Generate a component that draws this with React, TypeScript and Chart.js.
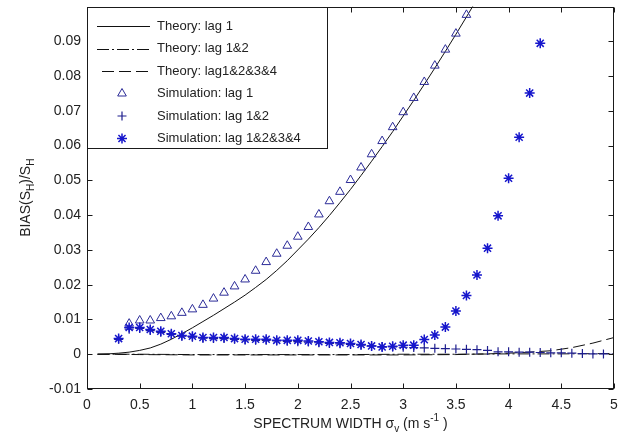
import React, { useEffect, useRef } from 'react';
import { Chart, registerables } from 'chart.js';

Chart.register(...registerables);

const FONT = '"Liberation Sans", Arial, Helvetica, sans-serif';
const TEXT = '#222222';
const AXIS = '#1a1a1a';

// ---- tick values ----
const X_TICKS = [0, 0.5, 1, 1.5, 2, 2.5, 3, 3.5, 4, 4.5, 5];
const Y_TICKS = [-0.01, 0, 0.01, 0.02, 0.03, 0.04, 0.05, 0.06, 0.07, 0.08, 0.09];

// ---- Theory: lag 1 (solid) ----
const theoryLag1X = [0.1, 0.2, 0.3, 0.4, 0.5, 0.6, 0.7, 0.8, 0.9, 1.0, 1.1, 1.2, 1.3, 1.4, 1.5, 1.6, 1.7, 1.8, 1.9, 2.0, 2.1, 2.2, 2.3, 2.4, 2.5, 2.6, 2.7, 2.8, 2.9, 3.0, 3.1, 3.2, 3.3, 3.4, 3.5, 3.6, 3.7];
const theoryLag1Y = [0.0, 0.0001, 0.0003, 0.0006, 0.0011, 0.0018, 0.0029, 0.0043, 0.0059, 0.0076, 0.0094, 0.0112, 0.0131, 0.015, 0.017, 0.0192, 0.0215, 0.0241, 0.0269, 0.03, 0.0331, 0.0364, 0.0399, 0.0436, 0.0474, 0.0514, 0.0555, 0.0597, 0.064, 0.0685, 0.073, 0.0776, 0.0823, 0.0871, 0.092, 0.097, 0.1021];

// ---- Theory: lag 1&2 (dash-dot) ----
const theoryLag12X = [0.1, 0.5, 1.0, 1.5, 2.0, 2.5, 3.0, 3.5, 4.0, 4.5, 5.0];
const theoryLag12Y = [0.0, 0.0, -0.0001, -0.0001, -0.0001, -0.0001, 0.0, 0.0, 0.0001, 0.0001, 0.0002];

// ---- Theory: lag1&2&3&4 (dashed) ----
const theoryLag1234X = [0.1, 0.5, 1.0, 1.5, 2.0, 2.5, 3.0, 3.5, 3.8, 4.0, 4.2, 4.4, 4.6, 4.8, 5.0];
const theoryLag1234Y = [0.0, -0.0001, -0.0002, -0.0002, -0.0002, -0.0002, -0.0002, -0.0001, 0.0001, 0.0003, 0.0006, 0.001, 0.0019, 0.0032, 0.0048];

// ---- Simulation: lag 1 (triangles) ----
const simLag1X = [0.4, 0.5, 0.6, 0.7, 0.8, 0.9, 1.0, 1.1, 1.2, 1.3, 1.4, 1.5, 1.6, 1.7, 1.8, 1.9, 2.0, 2.1, 2.2, 2.3, 2.4, 2.5, 2.6, 2.7, 2.8, 2.9, 3.0, 3.1, 3.2, 3.3, 3.4, 3.5, 3.6];
const simLag1Y = [0.0088, 0.0097, 0.0097, 0.0104, 0.0109, 0.0119, 0.0129, 0.0142, 0.016, 0.0177, 0.0195, 0.0215, 0.024, 0.0265, 0.0289, 0.0312, 0.0338, 0.0366, 0.0402, 0.044, 0.0467, 0.0501, 0.0537, 0.0575, 0.0613, 0.0653, 0.0696, 0.0737, 0.0783, 0.083, 0.0876, 0.0922, 0.0976];

// ---- Simulation: lag 1&2 (plus) ----
const simLag12X = [0.3, 0.4, 0.5, 0.6, 0.7, 0.8, 0.9, 1.0, 1.1, 1.2, 1.3, 1.4, 1.5, 1.6, 1.7, 1.8, 1.9, 2.0, 2.1, 2.2, 2.3, 2.4, 2.5, 2.6, 2.7, 2.8, 2.9, 3.0, 3.1, 3.2, 3.3, 3.4, 3.5, 3.6, 3.7, 3.8, 3.9, 4.0, 4.1, 4.2, 4.3, 4.4, 4.5, 4.6, 4.7, 4.8, 4.9, 5.0];
const simLag12Y = [0.0043, 0.0072, 0.0074, 0.0068, 0.0063, 0.0057, 0.0052, 0.0049, 0.0046, 0.0045, 0.0045, 0.0043, 0.0041, 0.004, 0.004, 0.0038, 0.0037, 0.0036, 0.0035, 0.0033, 0.0031, 0.003, 0.0028, 0.0026, 0.0024, 0.0022, 0.0021, 0.002, 0.0019, 0.0018, 0.0017, 0.0016, 0.0015, 0.0014, 0.0013, 0.0011, 0.0007, 0.0007, 0.0006, 0.0006, 0.0005, 0.0004, 0.0004, 0.0003, 0.0002, 0.0001, 0.0001, 0.0];

// ---- Simulation: lag 1&2&3&4 (asterisk) ----
const simLag1234X = [0.3, 0.4, 0.5, 0.6, 0.7, 0.8, 0.9, 1.0, 1.1, 1.2, 1.3, 1.4, 1.5, 1.6, 1.7, 1.8, 1.9, 2.0, 2.1, 2.2, 2.3, 2.4, 2.5, 2.6, 2.7, 2.8, 2.9, 3.0, 3.1, 3.2, 3.3, 3.4, 3.5, 3.6, 3.7, 3.8, 3.9, 4.0, 4.1, 4.2, 4.3];
const simLag1234Y = [0.0045, 0.0077, 0.0077, 0.0071, 0.0066, 0.0059, 0.0054, 0.0052, 0.0048, 0.0048, 0.0048, 0.0045, 0.0043, 0.0043, 0.0043, 0.004, 0.004, 0.004, 0.0038, 0.0036, 0.0034, 0.0033, 0.0031, 0.0028, 0.0024, 0.0021, 0.0023, 0.0026, 0.0026, 0.0042, 0.0055, 0.0078, 0.0124, 0.0169, 0.0228, 0.0305, 0.0398, 0.0506, 0.0624, 0.0751, 0.0894];

const LEGEND_LABELS = [
  'Theory: lag 1',
  'Theory: lag 1&2',
  'Theory: lag1&2&3&4',
  'Simulation: lag 1',
  'Simulation: lag 1&2',
  'Simulation: lag 1&2&3&4',
];

const LINE_COLOR = '#111111';
const TRI_COLOR = '#2c2c98';
const PLUS_COLOR = '#1e1e8e';
const STAR_COLOR = '#1616cc';
const DASH = [12, 5];
const DASHDOT = [12, 3, 2, 3];

const pts = (xs: number[], ys: number[]) => xs.map((x, i) => ({ x, y: ys[i] }));

function drawMarker(ctx: CanvasRenderingContext2D, style: string, x: number, y: number, r: number) {
  ctx.beginPath();
  if (style === 'triangle') {
    ctx.moveTo(x, y - r);
    ctx.lineTo(x + 0.866 * r, y + 0.5 * r);
    ctx.lineTo(x - 0.866 * r, y + 0.5 * r);
    ctx.closePath();
  } else if (style === 'cross') {
    ctx.moveTo(x - r, y);
    ctx.lineTo(x + r, y);
    ctx.moveTo(x, y - r);
    ctx.lineTo(x, y + r);
  } else if (style === 'star') {
    ctx.moveTo(x - r, y);
    ctx.lineTo(x + r, y);
    ctx.moveTo(x, y - r);
    ctx.lineTo(x, y + r);
    const d = r * 0.7071;
    ctx.moveTo(x - d, y - d);
    ctx.lineTo(x + d, y + d);
    ctx.moveTo(x - d, y + d);
    ctx.lineTo(x + d, y - d);
  }
  ctx.stroke();
}

type Part = { t: string; s?: number; dy?: number };

function drawRich(ctx: CanvasRenderingContext2D, parts: Part[], cx: number, cy: number) {
  let total = 0;
  parts.forEach((p) => {
    ctx.font = `${p.s || 14}px ${FONT}`;
    total += ctx.measureText(p.t).width;
  });
  let x = cx - total / 2;
  parts.forEach((p) => {
    ctx.font = `${p.s || 14}px ${FONT}`;
    ctx.fillText(p.t, x, cy + (p.dy || 0));
    x += ctx.measureText(p.t).width;
  });
}

const matlabPlugin = {
  id: 'matlabLook',
  afterDatasetsDraw(chart: any) {
    const ctx: CanvasRenderingContext2D = chart.ctx;
    const a = chart.chartArea;
    const xs = chart.scales.x;
    const ys = chart.scales.y;
    const TICK = 5;
    ctx.save();
    ctx.setLineDash([]);
    ctx.strokeStyle = AXIS;
    ctx.lineWidth = 1;
    const L = Math.round(a.left) + 0.5;
    const R = Math.round(a.right) - 0.5;
    const T = Math.round(a.top) + 0.5;
    const B = Math.round(a.bottom) - 0.5;
    ctx.strokeRect(L, T, R - L, B - T);
    ctx.beginPath();
    X_TICKS.forEach((v) => {
      const px = Math.round(xs.getPixelForValue(v)) + 0.5;
      ctx.moveTo(px, B);
      ctx.lineTo(px, B - TICK);
      ctx.moveTo(px, T);
      ctx.lineTo(px, T + TICK);
    });
    Y_TICKS.forEach((v) => {
      const py = Math.round(ys.getPixelForValue(v)) + 0.5;
      ctx.moveTo(L, py);
      ctx.lineTo(L + TICK, py);
      ctx.moveTo(R, py);
      ctx.lineTo(R - TICK, py);
    });
    ctx.stroke();

    // legend
    const lx = Math.round(a.left);
    const ly = Math.round(a.top);
    const lw = 241;
    const lh = 142;
    ctx.fillStyle = '#ffffff';
    ctx.fillRect(lx, ly, lw, lh);
    ctx.strokeStyle = AXIS;
    ctx.strokeRect(lx + 0.5, ly + 0.5, lw - 1, lh - 1);
    const ds = chart.data.datasets;
    ctx.textBaseline = 'middle';
    ctx.textAlign = 'left';
    LEGEND_LABELS.forEach((label, i) => {
      const y = ly + 19 + i * 22.5;
      const d = ds[i];
      ctx.strokeStyle = d.borderColor;
      ctx.lineWidth = d.borderWidth;
      if (d.showLine) {
        ctx.setLineDash(d.borderDash || []);
        ctx.beginPath();
        const x0 = d.borderDash && d.borderDash.length === 2 ? lx + 15 : lx + 10;
        ctx.moveTo(x0, Math.round(y) + 0.5);
        ctx.lineTo(lx + 63, Math.round(y) + 0.5);
        ctx.stroke();
        ctx.setLineDash([]);
      } else {
        drawMarker(ctx, d.pointStyle, lx + 35, y, d.pointRadius);
      }
      ctx.fillStyle = TEXT;
      ctx.font = `13px ${FONT}`;
      ctx.fillText(label, lx + 70, y);
    });

    // axis titles
    ctx.fillStyle = TEXT;
    ctx.textBaseline = 'middle';
    ctx.textAlign = 'left';
    drawRich(
      ctx,
      [
        { t: 'SPECTRUM WIDTH \u03c3' },
        { t: 'v', s: 10, dy: 5 },
        { t: ' (m s' },
        { t: '-1', s: 10, dy: -6 },
        { t: ' )' },
      ],
      (a.left + a.right) / 2,
      424
    );
    ctx.save();
    ctx.translate(26, (a.top + a.bottom) / 2);
    ctx.rotate(-Math.PI / 2);
    drawRich(
      ctx,
      [
        { t: 'BIAS(S' },
        { t: 'H', s: 10, dy: 5 },
        { t: ')/S' },
        { t: 'H', s: 10, dy: 5 },
      ],
      0,
      0
    );
    ctx.restore();
    ctx.restore();
  },
};

export default function App() {
  const ref = useRef<HTMLCanvasElement | null>(null);
  useEffect(() => {
    if (!ref.current) return;
    const lineDs = (xs: number[], ys: number[], dash: number[], order: number) => ({
      data: pts(xs, ys),
      showLine: true,
      borderColor: LINE_COLOR,
      borderWidth: 1,
      borderDash: dash,
      pointRadius: 0,
      tension: 0,
      fill: false,
      order,
    });
    const markDs = (xs: number[], ys: number[], style: string, color: string, r: number, w: number, order: number) => ({
      data: pts(xs, ys),
      showLine: false,
      pointStyle: style,
      pointRadius: r,
      pointBorderColor: color,
      borderColor: color,
      pointBackgroundColor: 'rgba(0,0,0,0)',
      backgroundColor: 'rgba(0,0,0,0)',
      pointBorderWidth: w,
      borderWidth: w,
      order,
    });
    const chart = new Chart(ref.current, {
      type: 'scatter',
      data: {
        datasets: [
          lineDs(theoryLag1X, theoryLag1Y, [], 5),
          lineDs(theoryLag12X, theoryLag12Y, DASHDOT, 4),
          lineDs(theoryLag1234X, theoryLag1234Y, DASH, 3),
          markDs(simLag1X, simLag1Y, 'triangle', TRI_COLOR, 5, 1, 2),
          markDs(simLag12X, simLag12Y, 'cross', PLUS_COLOR, 4.5, 1.2, 1),
          markDs(simLag1234X, simLag1234Y, 'star', STAR_COLOR, 5, 1.5, 0),
        ] as any,
      },
      options: {
        responsive: false,
        animation: false,
        devicePixelRatio: 1,
        layout: { padding: { left: 0, right: 21, top: 5, bottom: 0 } },
        plugins: {
          legend: { display: false },
          tooltip: { enabled: false },
          title: { display: false },
        },
        scales: {
          x: {
            type: 'linear',
            position: 'bottom',
            min: 0,
            max: 5,
            afterBuildTicks: (s: any) => {
              s.ticks = X_TICKS.map((value) => ({ value }));
            },
            afterFit: (s: any) => {
              s.height = 47;
              s.paddingLeft = 0;
              s.paddingRight = 0;
              s.paddingTop = 0;
              s.paddingBottom = 0;
            },
            ticks: {
              autoSkip: false,
              maxRotation: 0,
              padding: 8,
              color: TEXT,
              font: { family: FONT, size: 14 },
              callback: (v: any) => String(Math.round(Number(v) * 10) / 10),
            },
            grid: { display: false, drawTicks: false },
            border: { display: false },
          },
          y: {
            type: 'linear',
            min: -0.01,
            max: 0.1,
            afterBuildTicks: (s: any) => {
              s.ticks = Y_TICKS.map((value) => ({ value }));
            },
            afterFit: (s: any) => {
              s.width = 87;
              s.paddingLeft = 0;
              s.paddingRight = 0;
              s.paddingTop = 0;
              s.paddingBottom = 0;
            },
            ticks: {
              autoSkip: false,
              padding: 6,
              color: TEXT,
              font: { family: FONT, size: 14 },
              callback: (v: any) => String(Math.round(Number(v) * 100) / 100),
            },
            grid: { display: false, drawTicks: false },
            border: { display: false },
          },
        },
      } as any,
      plugins: [matlabPlugin],
    });
    return () => chart.destroy();
  }, []);
  return (
    <div style={{ position: 'fixed', left: 0, top: 0, width: 635, height: 436, background: '#fff' }}>
      <canvas ref={ref} width={635} height={436} style={{ display: 'block', width: 635, height: 436 }} />
    </div>
  );
}
